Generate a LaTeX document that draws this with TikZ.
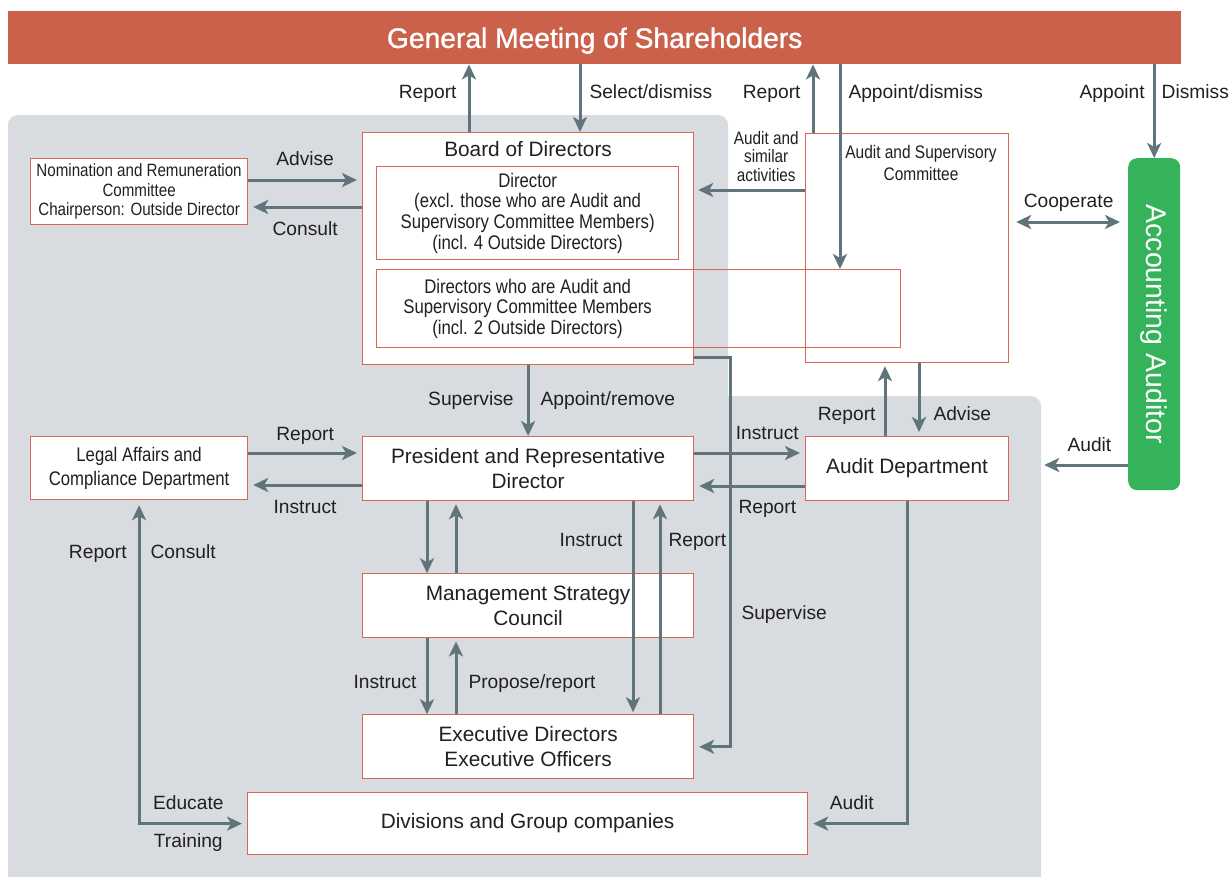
\documentclass[tikz,border=0pt]{standalone}
\usepackage{fontspec}
\setmainfont{Liberation Sans}
\newfontfamily\condfont[FakeStretch=0.85]{Liberation Sans}
\newfontfamily\headfont[FakeBold=1.2]{Liberation Sans}
\usepackage{tikz}
\usetikzlibrary{arrows.meta, positioning}
\definecolor{gmsred}{RGB}{203,96,75}
\definecolor{boxred}{RGB}{214,104,84}
\definecolor{bggray}{RGB}{216,220,224}
\definecolor{linkgray}{RGB}{96,116,124}
\definecolor{auditgreen}{RGB}{53,179,91}
\definecolor{txtdark}{RGB}{35,31,32}

\begin{document}
\begin{tikzpicture}[
  x=1pt, y=-1pt,
  node distance=73pt,
  >={Stealth[length=15pt, width=14pt, inset=4pt]},
  box/.style={draw=boxred, line width=1.2pt, fill=white, inner sep=2pt, align=center,
              text=txtdark, font=\fontsize{20.8}{25}\selectfont},
  cbox/.style={box, font=\condfont\fontsize{19.7}{20.7}\selectfont},
  ctext/.style={inner sep=0pt, align=center, text=txtdark, font=\condfont\fontsize{19.7}{20.7}\selectfont},
  lbl/.style={inner sep=1pt, text=txtdark, text height=14pt, text depth=4pt, font=\fontsize{19.2}{21}\selectfont},
  clbl/.style={inner sep=1pt, align=center, text=txtdark, font=\condfont\fontsize{18}{18.5}\selectfont},
  arrow/.style={->, line width=3pt, draw=linkgray},
  twoway/.style={<->, line width=3pt, draw=linkgray}
]
\useasboundingbox (0,0) rectangle (1231,876);

% grey company area
\begin{scope}
  \clip (0,0) rectangle (1231,876);
  \fill[bggray, rounded corners=10pt] (8,115) rectangle (728,900);
  \fill[bggray, rounded corners=10pt] (700,396) rectangle (1041,900);
\end{scope}

\node[fill=gmsred, anchor=north west, minimum width=1173pt, minimum height=53pt, inner sep=0pt, text depth=0pt,
      text=white, font=\headfont\fontsize{28.2}{30}\selectfont] (gms) at (8,11) {General Meeting of Shareholders};

% board and committees
\node[box, anchor=north west, minimum width=331pt, minimum height=232pt] (board) at (362,132) {};
\node[inner sep=0pt, anchor=north, text=txtdark, font=\fontsize{20.8}{25}\selectfont] (boardtitle) at (board.north |- 0,141) {Board of Directors};
\node[box, anchor=north west, minimum width=203pt, minimum height=229pt] (asc) at (805,133) {};
\node[ctext, anchor=north, font=\condfont\fontsize{18.2}{22}\selectfont] (asctext) at (921,145) {Audit and Supervisory\\Committee};
\node[cbox, anchor=north west, minimum width=302pt, minimum height=93pt] (director) at (376,166)
  {Director\\(excl. those who are Audit and\\Supervisory Committee Members)\\(incl. 4 Outside Directors)};
\node[draw=boxred, line width=1.2pt, anchor=north west, minimum width=524pt, minimum height=78pt] (dirasc) at (376,269) {};
\node[ctext] (dirasctext) at (director.center |- dirasc.center)
  {Directors who are Audit and\\Supervisory Committee Members\\(incl. 2 Outside Directors)};
\node[cbox, font=\condfont\fontsize{17.8}{19.5}\selectfont, anchor=north west, minimum width=217pt, minimum height=66pt] (nom) at (30,158)
  {Nomination and Remuneration\\Committee\\Chairperson: Outside Director};

% execution side
\node[cbox, font=\condfont\fontsize{19.7}{24}\selectfont, anchor=north west, minimum width=217pt, minimum height=63pt] (legal) at (30,436)
  {Legal Affairs and\\Compliance Department};
\node[box, anchor=north west, minimum width=331pt, minimum height=64pt] (pres) at (362,436) {President and Representative\\Director};
\node[box, below=72pt of pres, minimum width=331pt, minimum height=64pt] (msc) {Management Strategy\\Council};
\node[box, below=75.8pt of msc, minimum width=331pt, minimum height=64pt] (exec) {Executive Directors\\Executive Officers};
\node[box, anchor=north west, minimum width=203pt, minimum height=64pt] (auditdept) at (805,436) {Audit Department};
\node[box, anchor=north west, minimum width=560pt, minimum height=62pt] (div) at (247,792) {Divisions and Group companies};

\node[fill=auditgreen, rounded corners=9pt, anchor=north west, minimum width=52pt, minimum height=332pt] (acc) at (1128,158) {};
\node[rotate=-90, text=white, font=\fontsize{28.5}{30}\selectfont] (acctext) at (acc.center) {Accounting Auditor};

% general meeting
\draw[arrow] (board.north -| 469,0) -- (gms.south -| 469,0) node[lbl, pos=0.57, left=10pt] {Report};
\draw[arrow] (gms.south -| 580,0) -- (board.north -| 580,0) node[lbl, pos=0.43, right=7pt] {Select/dismiss};
\draw[arrow] (asc.north -| 813,0) -- (gms.south -| 813,0) node[lbl, pos=0.58, left=10pt] {Report};
\draw[arrow] (gms.south -| 840,0) -- (dirasc.north -| 840,0) node[lbl, pos=0.14, right=6pt] {Appoint/dismiss};
\draw[arrow] (gms.south -| acc.north) -- (acc.north)
  node[lbl, pos=0.31, left=7pt] {Appoint} node[lbl, pos=0.31, right=5pt] {Dismiss};

% board level
\draw[arrow, shorten >=4pt] (asc.west |- 0,190) -- (board.east |- 0,190) node[clbl, pos=0.35, above=6pt] {Audit and\\similar\\activities};
\draw[arrow, shorten >=5pt] (nom.east |- 0,180) -- (board.west |- 0,180) node[lbl, midway, above=8pt] {Advise};
\draw[arrow, shorten >=5pt] (board.west |- 0,207) -- (nom.east |- 0,207) node[lbl, midway, below=12pt] {Consult};
\draw[twoway, shorten <=7pt, shorten >=8pt] (asc.east |- 0,222) -- (acc.west |- 0,222) node[lbl, midway, above=8pt] {Cooperate};
\draw[arrow, shorten >=35pt] (acc.west |- 0,465) -- (auditdept.east |- 0,465) node[lbl, pos=0.325, above=7pt] {Audit};
\draw[arrow] (board.south) -- (pres.north)
  node[lbl, midway, left=12pt] {Supervise} node[lbl, midway, right=10pt] {Appoint/remove};
\coordinate (supv) at (730,0 |- exec.east);
\draw[arrow, shorten >=5pt] (board.east |- 0,357) -| (supv) node[lbl, pos=0.83, right=9pt] {Supervise} -- (exec.east);

% president level
\draw[arrow, shorten >=5pt] (legal.east |- 0,453) -- (pres.west |- 0,453) node[lbl, midway, above=6pt] {Report};
\draw[arrow, shorten >=5pt] (pres.west |- 0,485) -- (legal.east |- 0,485) node[lbl, midway, below=12pt] {Instruct};
\draw[arrow, shorten >=5pt] (pres.east |- 0,453) -- (auditdept.west |- 0,453) node[lbl, pos=0.66, above=7pt] {Instruct};
\draw[arrow, shorten >=5pt] (auditdept.west |- 0,486) -- (pres.east |- 0,486) node[lbl, pos=0.34, below=11pt] {Report};
\draw[arrow, shorten >=3pt] (auditdept.north -| 885,0) -- (asc.south -| 885,0) node[lbl, pos=0.28, left=7pt] {Report};
\draw[arrow, shorten >=4pt] (asc.south -| 919,0) -- (auditdept.north -| 919,0) node[lbl, pos=0.72, right=12pt] {Advise};

% down to execution
\draw[arrow] (pres.south -| 427,0) -- (msc.north -| 427,0);
\draw[arrow, shorten >=3pt] (msc.north -| 456,0) -- (pres.south -| 456,0);
\draw[arrow] (msc.south -| 427,0) -- (exec.north -| 427,0) node[lbl, pos=0.6, left=8pt] {Instruct};
\draw[arrow, shorten >=3pt] (exec.north -| 456,0) -- (msc.south -| 456,0) node[lbl, pos=0.4, right=10pt] {Propose/report};
\draw[arrow, shorten >=2pt] (pres.south -| 633,0) -- (exec.north -| 633,0) node[lbl, pos=0.19, left=8pt] {Instruct};
\draw[arrow, shorten >=3pt] (exec.north -| 660,0) -- (pres.south -| 660,0) node[lbl, pos=0.81, right=6pt] {Report};
\draw[arrow, shorten >=5pt] (auditdept.south) |- (div.east) node[lbl, pos=0.78, above=8pt] {Audit};
\draw[twoway, shorten <=5pt, shorten >=5pt] (legal.south) |- (div.west)
  node[lbl, pos=0.082, left=10pt] {Report} node[lbl, pos=0.082, right=9pt] {Consult}
  node[lbl, pos=0.728, above=8pt] {Educate} node[lbl, pos=0.728, below=7pt] {Training};

\end{tikzpicture}
\end{document}
